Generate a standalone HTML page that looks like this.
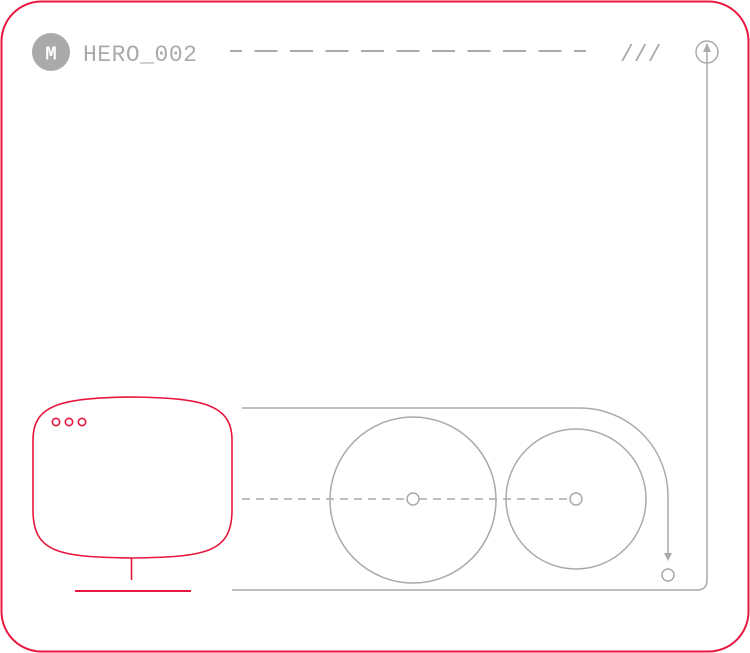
<!DOCTYPE html>
<html><head><meta charset="utf-8"><style>
html,body{margin:0;padding:0;background:#fff;width:750px;height:653px;overflow:hidden}
</style></head><body>
<svg width="750" height="653" viewBox="0 0 750 653" xmlns="http://www.w3.org/2000/svg">
<rect x="1.5" y="1.5" width="747" height="650" rx="40" fill="none" stroke="#e8173f" stroke-width="2"/>
<circle cx="51" cy="52" r="19" fill="#aaa"/>
<text x="51" y="59.5" text-anchor="middle" font-family="Liberation Mono, monospace" font-size="19" font-weight="bold" fill="#fff">M</text>
<text x="83" y="61" font-family="Liberation Mono, DejaVu Sans Mono, monospace" font-size="23" letter-spacing="0.5" fill="#aaa">HERO_002</text>
<line x1="230" y1="51" x2="586" y2="51" stroke="#aaa" stroke-width="2" stroke-dasharray="23 12.5" stroke-dashoffset="11"/>
<text x="620" y="61" font-family="Liberation Mono, monospace" font-size="23" fill="#aaa">///</text>
<g fill="none" stroke="#aaa" stroke-width="1.5">
<circle cx="707" cy="52" r="11"/>
<path d="M707 44 V580 Q707 590 697 590 H232"/>
<path d="M242 408 H580 A88 88 0 0 1 668 496 V556"/>
<circle cx="413" cy="500" r="83"/>
<circle cx="576" cy="499" r="70"/>
<circle cx="413" cy="499" r="6" fill="#fff"/>
<circle cx="576" cy="499" r="6" fill="#fff"/>
<circle cx="668" cy="575" r="6"/>
<line x1="242" y1="499" x2="407" y2="499" stroke-dasharray="8 6"/>
<line x1="419" y1="499" x2="570" y2="499" stroke-dasharray="8 6"/>
</g>
<path d="M703 52 L707 43 L711 52 Z" fill="#aaa"/>
<path d="M664 553 L668 561 L672 553 Z" fill="#aaa"/>
<g fill="none" stroke="#e8173f" stroke-width="1.6">
<path d="M33 440 C33 405 60 398 132 397 C204 398 232 405 232 440 V510 C232 553 205 557 132 558 C59 557 33 553 33 510 Z"/>
<circle cx="56" cy="422" r="3.7"/>
<circle cx="69" cy="422" r="3.7"/>
<circle cx="82" cy="422" r="3.7"/>
<line x1="131.5" y1="558" x2="131.5" y2="580"/>
<line x1="75" y1="591" x2="191" y2="591" stroke-width="2"/>
</g>
</svg>
</body></html>
